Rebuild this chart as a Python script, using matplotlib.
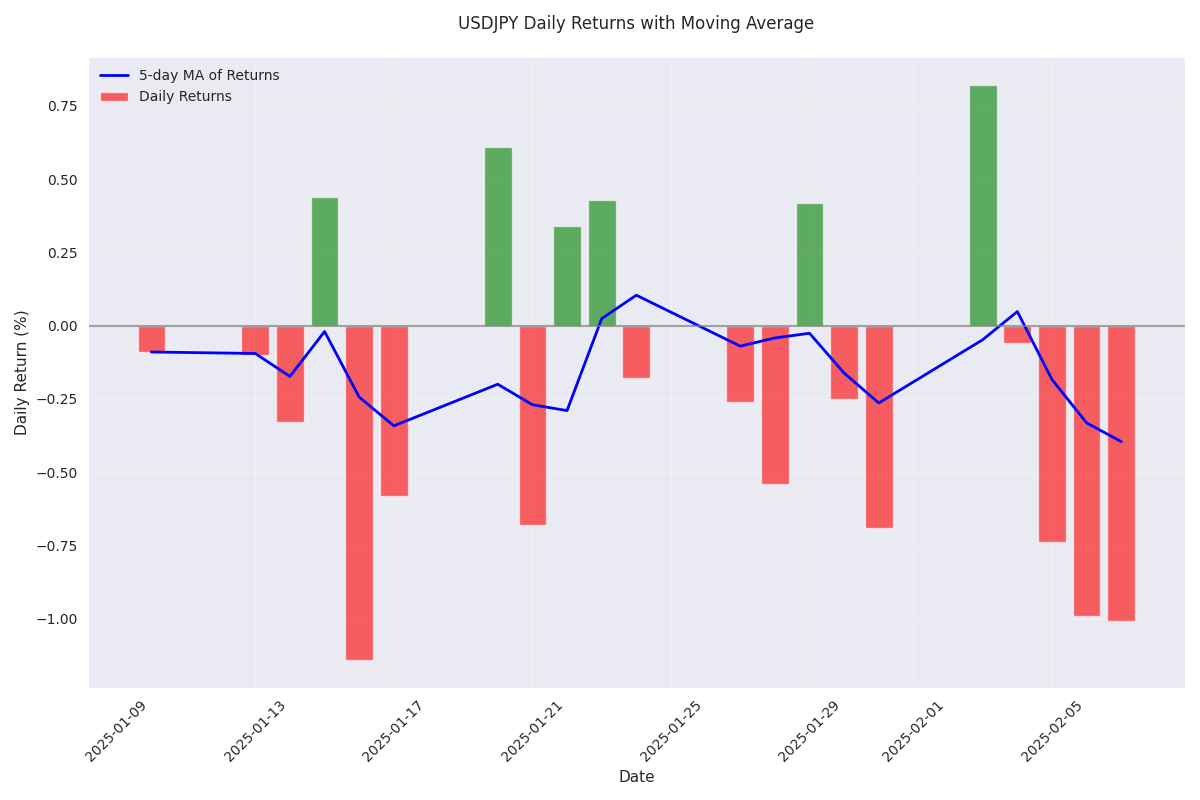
import numpy as np
import pandas as pd
import matplotlib
matplotlib.use('Agg')
import matplotlib.pyplot as plt
import matplotlib.dates as mdates
import seaborn as sns

sns.set_style('darkgrid')
plt.rcParams['font.family'] = ['DejaVu Sans']

# daily returns (%)
dates = ['2025-01-10', '2025-01-13', '2025-01-14', '2025-01-15', '2025-01-16',
         '2025-01-17', '2025-01-20', '2025-01-21', '2025-01-22', '2025-01-23',
         '2025-01-24', '2025-01-27', '2025-01-28', '2025-01-29', '2025-01-30',
         '2025-01-31', '2025-02-03', '2025-02-04', '2025-02-05', '2025-02-06',
         '2025-02-07']
returns = [-0.09, -0.10, -0.33, 0.44, -1.14,
           -0.58, 0.61, -0.68, 0.34, 0.43,
           -0.18, -0.26, -0.54, 0.42, -0.25,
           -0.69, 0.82, -0.06, -0.74, -0.99,
           -1.01]

df = pd.DataFrame({'ret': returns}, index=pd.to_datetime(dates))
df['ma5'] = df['ret'].rolling(5, min_periods=1).mean()

colors = ['green' if r > 0 else 'red' for r in df['ret']]

fig, ax = plt.subplots(figsize=(12, 8), dpi=100)
ax.plot(df.index, df['ma5'], color='blue', linewidth=2, label='5-day MA of Returns')
ax.bar(df.index, df['ret'], color=colors, alpha=0.6, width=0.8, label='Daily Returns')
ax.axhline(0, color='gray', linestyle='-', alpha=0.7)

ax.xaxis.set_major_locator(mdates.DayLocator(bymonthday=range(1, 32, 4)))
ax.xaxis.set_major_formatter(mdates.DateFormatter('%Y-%m-%d'))
plt.xticks(rotation=45)

ax.set_title('USDJPY Daily Returns with Moving Average', fontsize=12, pad=20)
ax.set_xlabel('Date', fontsize=11)
ax.set_ylabel('Daily Return (%)', fontsize=11)
ax.legend(loc='upper left', frameon=False)
ax.grid(True, alpha=0.3)

plt.tight_layout()
plt.savefig('out.png', dpi=100)
